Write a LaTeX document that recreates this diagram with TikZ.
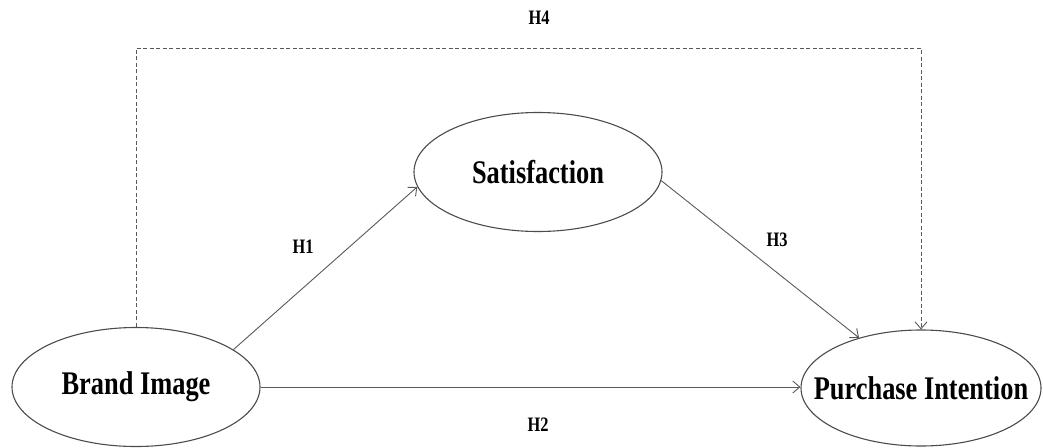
\documentclass[tikz,border=0pt]{standalone}
\usepackage{fontspec}
\setmainfont{Liberation Serif}
\usetikzlibrary{shapes.geometric,arrows.meta}
\tikzset{
  construct/.style={ellipse, draw=black!70, line width=1.1pt, inner sep=0pt, fill=white},
  bigtext/.style={font=\fontsize{33}{36}\selectfont\bfseries},
  hlabel/.style={font=\fontsize{20.5}{23}\selectfont\bfseries, inner sep=0pt},
  path/.style={draw=black!65, line width=0.9pt, -{Straight Barb[length=7pt,width=12pt]}},
  dpath/.style={path, dash pattern=on 4pt off 2.5pt}
}
\newcommand{\sq}[1]{\scalebox{0.8}[1]{#1}}
\begin{document}
\begin{tikzpicture}
\useasboundingbox (0pt,0pt) rectangle (1043pt,-447pt);
\node[construct, minimum width=248pt, minimum height=119pt, label={[bigtext]center:\sq{Brand Image}}] (bi) at (136pt,-387pt) {};
\node[construct, minimum width=248pt, minimum height=119pt, label={[bigtext]center:\sq{Satisfaction}}] (sat) at (538pt,-172pt) {};
\node[construct, minimum width=240pt, minimum height=116pt, label={[bigtext]center:\sq{Purchase Intention}}] (pi) at (921pt,-388pt) {};
\coordinate (top) at (0pt,-48pt);
\draw[path] (bi.21.6) -- (sat.187.6);
\draw[path] (sat.356) -- (pi.141);
\draw[path] (bi.east) -- (pi.west |- bi.east);
\draw[dpath] (bi.north) -- (bi.north |- top) -| (pi.north);
\node[hlabel] (h1) at (303pt,-247pt) {\sq{H1}};
\node[hlabel] (h2) at (538pt,-425pt) {\sq{H2}};
\node[hlabel] (h3) at (777pt,-240pt) {\sq{H3}};
\node[hlabel] (h4) at (539pt,-18pt) {\sq{H4}};
\end{tikzpicture}
\end{document}
